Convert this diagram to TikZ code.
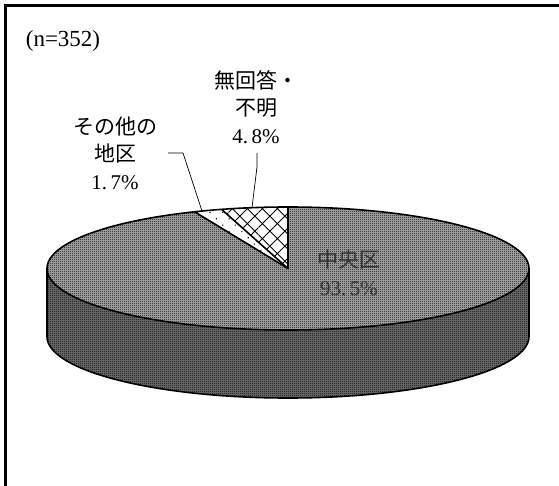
\documentclass[tikz,border=0pt]{standalone}
\usepackage{fontspec}
\setmainfont{Liberation Serif}
\newfontfamily\jp{Noto Sans CJK JP}
\usetikzlibrary{patterns,patterns.meta}
\pgfdeclarepatternformonly{finecheck}{\pgfpointorigin}{\pgfpoint{2pt}{2pt}}{\pgfpoint{2pt}{2pt}}{%
  \pgfpathrectangle{\pgfpointorigin}{\pgfpoint{1pt}{1pt}}%
  \pgfpathrectangle{\pgfpoint{1pt}{1pt}}{\pgfpoint{1pt}{1pt}}%
  \pgfusepath{fill}}
\begin{document}
\begin{tikzpicture}[x=1pt,y=-1pt,
  outline/.style={draw=black,line width=1.6pt,line join=round},
  lbl/.style={align=center,font=\fontsize{21}{27.5}\selectfont,inner sep=0pt},
  leader/.style={draw=black,line width=0.7pt},
  ell/.style={x radius=241,y radius=61.5}]
\useasboundingbox (0,0) rectangle (559,486);
\fill[white] (0,0) rectangle (559,486);
\draw[line width=2.5pt] (5.5,486) -- (5.5,5.5) -- (559,5.5);
% centres
\coordinate (c) at (288,268.5);
\coordinate (top) at (288,207);
\path (c) ++(-106:241 and 61.5) coordinate (b1);
% side
\path[fill=black!55,postaction={pattern=finecheck,pattern color=black}]
  (47,268.5) -- (47,336.5) arc[start angle=180,end angle=0,ell] -- (529,268.5)
  arc[start angle=0,end angle=180,ell] -- cycle;
\draw[outline] (47,268.5) -- (47,336.5) arc[start angle=180,end angle=0,ell] -- (529,268.5);
% main slice
\path[fill=black!30,postaction={pattern=finecheck,pattern color=black}]
  (c) -- (top) arc[start angle=-90,end angle=247.2,ell] -- cycle;
% no answer slice
\path[fill=white,postaction={pattern={Hatch[angle=45,distance=10.6pt,line width=0.9pt]},pattern color=black}]
  (c) -- (top) arc[start angle=-90,end angle=-106,ell] -- cycle;
% other slice
\path[fill=white,postaction={pattern={Dots[angle=45,distance=9pt,radius=0.8pt]},pattern color=black}]
  (c) -- (b1) arc[start angle=-106,end angle=-112.8,ell] -- cycle;
% outlines
\draw[outline] (c) ellipse[ell];
\draw[outline] (top) -- (c) -- (b1);
\draw[outline] (c) -- ++(-112.8:241 and 61.5);
% labels
\node[lbl,font=\fontsize{23}{26}\selectfont] (n) at (63,41) {(n=352)};
\node[lbl] (mu) at (256,107) {{\jp 無回答・}\\{\jp 不明}\\4.\,8\%};
\node[lbl] (ot) at (115,153) {{\jp その他の}\\{\jp 地区}\\1.\,7\%};
\node[lbl,text=black!80] (ch) at (349,273) {{\jp 中央区}\\93.\,5\%};
% leaders
\coordinate (m1) at (257,153);
\coordinate (m2) at (257,167);
\coordinate (m3) at (252,207.5);
\coordinate (o1) at (168,153);
\coordinate (o2) at (183,153);
\coordinate (o3) at (202,211);
\draw[leader] (m1) -- (m2) -- (m3);
\draw[leader] (o1) -- (o2) -- (o3);
\end{tikzpicture}
\end{document}
